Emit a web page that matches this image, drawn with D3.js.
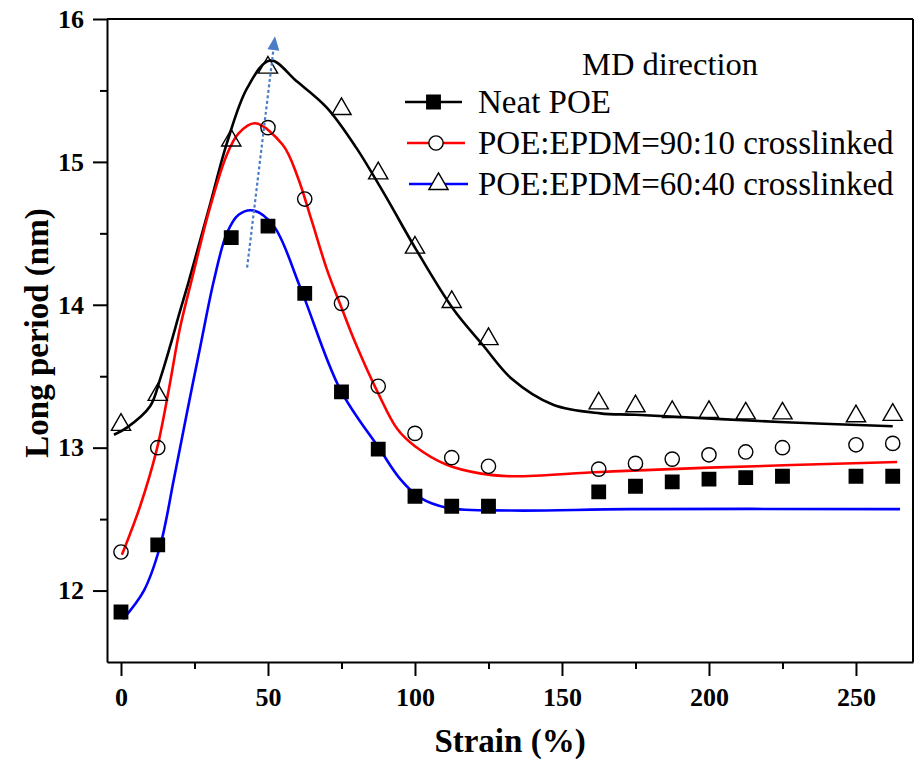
<!DOCTYPE html>
<html>
<head>
<meta charset="utf-8">
<script src="https://cdn.jsdelivr.net/npm/d3@7"></script>
<style>
  html, body { margin: 0; padding: 0; background: #fff; }
  svg { display: block; }
  text { font-family: "Liberation Serif", "Times New Roman", serif; fill: #000; }
</style>
</head>
<body>
<svg id="chart" width="916" height="760"></svg>
<script>
// Strain values at which SAXS long periods were measured (%)
const strain = [0, 12.5, 37.5, 50, 62.5, 75, 87.5, 100, 112.5, 125, 162.5, 175, 187.5, 200, 212.5, 225, 250, 262.5];

// Measured long period (nm)
const neatPOE  = [11.85, 12.32, 14.47, 14.55, 14.08, 13.39, 12.99, 12.66, 12.59, 12.59, 12.69, 12.73, 12.76, 12.78, 12.79, 12.80, 12.80, 12.80];
const blend9010 = [12.27, 13.00, null, 15.24, 14.74, 14.01, 13.43, 13.10, 12.93, 12.87, 12.85, 12.89, 12.92, 12.95, 12.97, 13.00, 13.02, 13.03];
const blend6040 = [13.16, 13.37, 15.15, 15.66, null, 15.37, 14.92, 14.40, 14.02, 13.76, 13.31, 13.29, 13.25, 13.25, 13.24, 13.24, 13.22, 13.23];

// Smoothed trend curves [strain, long period]
const fitBlack = [[-2.4, 13.09], [2, 13.14], [9.9, 13.29], [13.3, 13.48], [16.7, 13.71], [20, 13.95], [23, 14.16], [30, 14.68], [36, 15.13], [43, 15.52], [50.7, 15.71], [60, 15.56], [70, 15.38], [80, 15.1], [90, 14.76], [100, 14.4], [113, 13.97], [123, 13.72], [133, 13.48], [147, 13.30], [163, 13.24], [175, 13.23], [224, 13.18], [262.5, 13.15]];
const fitRed = [[0.3, 12.25], [6.5, 12.59], [12.2, 12.99], [16.3, 13.41], [20, 13.83], [24, 14.17], [30, 14.66], [36, 15.05], [40, 15.2], [45.6, 15.27], [55, 15.12], [60, 14.9], [65, 14.58], [70, 14.25], [75, 13.98], [80, 13.72], [87.5, 13.38], [94, 13.13], [100, 13.01], [110.8, 12.88], [122, 12.82], [133, 12.80], [163, 12.83], [200, 12.86], [264, 12.90]];
const fitBlue = [[0.7, 11.80], [7.8, 12.0], [13.3, 12.31], [18, 12.78], [22.4, 13.24], [27, 13.71], [31.6, 14.17], [36, 14.5], [40, 14.63], [45, 14.66], [52, 14.55], [61, 14.12], [74.5, 13.41], [88, 12.99], [95, 12.78], [101.7, 12.65], [110.8, 12.58], [133, 12.56], [173, 12.57], [265, 12.57]];

// Trend arrow through the peak positions [strain, long period]
const arrowPath = [[42.9, 14.26], [52.4, 15.88]];

const xTicks = [0, 50, 100, 150, 200, 250];
const yTicks = [12, 13, 14, 15, 16];

const legendTitle = "MD direction";
const seriesNames = ["Neat POE", "POE:EPDM=90:10 crosslinked", "POE:EPDM=60:40 crosslinked"];

const serif = "'Liberation Serif', 'Times New Roman', serif";
const svg = d3.select("#chart");
const plotL = 107, plotR = 913, plotT = 19, plotB = 662;

const x = d3.scaleLinear().domain([-4.76, 269.4]).range([plotL, plotR]);
const y = d3.scaleLinear().domain([11.5, 16]).range([plotB, plotT]);

// Frame (top and right edges)
svg.append("line").attr("x1", plotL).attr("x2", plotR).attr("y1", plotT).attr("y2", plotT)
  .attr("stroke", "#000").attr("stroke-width", 2);
svg.append("line").attr("x1", plotR).attr("x2", plotR).attr("y1", plotT).attr("y2", plotB)
  .attr("stroke", "#000").attr("stroke-width", 2);

// X axis
svg.append("g").attr("transform", `translate(0,${plotB})`)
  .call(d3.axisBottom(x).tickValues(xTicks).tickSize(14).tickSizeOuter(0).tickPadding(12).tickFormat(d3.format("d")));
svg.append("g").attr("transform", `translate(0,${plotB})`)
  .call(d3.axisBottom(x).tickValues(d3.range(25, 270, 50)).tickSize(7).tickSizeOuter(0).tickFormat(""))
  .call(g => g.select(".domain").remove());

// Y axis
svg.append("g").attr("transform", `translate(${plotL},0)`)
  .call(d3.axisLeft(y).tickValues(yTicks).tickSize(14).tickSizeOuter(0).tickPadding(9).tickFormat(d3.format("d")));
svg.append("g").attr("transform", `translate(${plotL},0)`)
  .call(d3.axisLeft(y).tickValues(d3.range(12.5, 16, 1)).tickSize(7).tickSizeOuter(0).tickFormat(""))
  .call(g => g.select(".domain").remove());

svg.selectAll(".domain").attr("stroke-width", 2);
svg.selectAll(".tick line").attr("stroke-width", 2);
svg.selectAll(".tick text")
  .attr("font-family", serif).style("font-family", serif)
  .style("font-size", "26px").style("font-weight", "bold");

// Axis titles
svg.append("text").attr("x", (plotL + plotR) / 2).attr("y", 752)
  .attr("text-anchor", "middle").style("font-family", serif).style("font-size", "33px").style("font-weight", "bold")
  .text("Strain (%)");
svg.append("text").attr("transform", "translate(48,333) rotate(-90)")
  .attr("text-anchor", "middle").style("font-family", serif).style("font-size", "33px").style("font-weight", "bold")
  .text("Long period (nm)");

// Trend curves
const line = d3.line().x(d => x(d[0])).y(d => y(d[1])).curve(d3.curveCatmullRom.alpha(0.5));
const curves = [[fitBlack, "#000"], [fitRed, "#ff0000"], [fitBlue, "#0000ff"]];
curves.forEach(([pts, col]) => {
  svg.append("path").datum(pts).attr("d", line)
    .attr("fill", "none").attr("stroke", col).attr("stroke-width", 2.6);
});

// Marker shapes
const squareSym = d3.symbol().type(d3.symbolSquare).size(180);
const circleSym = d3.symbol().type(d3.symbolCircle).size(160);
const triSym = d3.symbol().type(d3.symbolTriangle).size(160);

function drawMarkers(values, sym, filled) {
  svg.append("g").selectAll("path")
    .data(strain.map((s, i) => [s, values[i]]).filter(d => d[1] != null))
    .join("path")
    .attr("transform", d => `translate(${x(d[0])},${y(d[1])})`)
    .attr("d", sym)
    .attr("fill", filled ? "#000" : "none")
    .attr("stroke", "#000").attr("stroke-width", 1.4);
}
drawMarkers(neatPOE, squareSym, true);
drawMarkers(blend9010, circleSym, false);
drawMarkers(blend6040, triSym, false);

// Dotted trend arrow
const arrowCol = "#4a7cc7";
const [a0, a1] = arrowPath.map(p => [x(p[0]), y(p[1])]);
const ang = Math.atan2(a1[1] - a0[1], a1[0] - a0[0]);
const headLen = 14, headW = 6;
const baseX = a1[0] - headLen * Math.cos(ang), baseY = a1[1] - headLen * Math.sin(ang);
svg.append("line").attr("x1", a0[0]).attr("y1", a0[1]).attr("x2", baseX).attr("y2", baseY)
  .attr("stroke", arrowCol).attr("stroke-width", 2.2).attr("stroke-dasharray", "3,2.5");
svg.append("path")
  .attr("d", `M${a1[0]},${a1[1]} L${baseX + headW * Math.sin(ang)},${baseY - headW * Math.cos(ang)} L${baseX - headW * Math.sin(ang)},${baseY + headW * Math.cos(ang)} Z`)
  .attr("fill", arrowCol);

// Legend
svg.append("text").attr("x", 582).attr("y", 75).style("font-family", serif).style("font-size", "32.5px").text(legendTitle);
const legendRows = [
  { name: seriesNames[0], col: "#000", sym: squareSym, filled: true, x1: 405, x2: 462 },
  { name: seriesNames[1], col: "#ff0000", sym: circleSym, filled: false, x1: 407, x2: 465 },
  { name: seriesNames[2], col: "#0000ff", sym: triSym, filled: false, x1: 409, x2: 468 }
];
legendRows.forEach((r, i) => {
  const ly = 102 + i * 41;
  svg.append("line").attr("x1", r.x1).attr("x2", r.x2).attr("y1", ly).attr("y2", ly)
    .attr("stroke", r.col).attr("stroke-width", 2.6);
  svg.append("path").attr("transform", `translate(${(r.x1 + r.x2) / 2},${ly})`)
    .attr("d", r.sym).attr("fill", r.filled ? "#000" : "#fff")
    .attr("stroke", "#000").attr("stroke-width", 1.4);
  svg.append("text").attr("x", 478).attr("y", ly + 11).style("font-family", serif).style("font-size", "33px").text(r.name);
});
</script>
</body>
</html>
